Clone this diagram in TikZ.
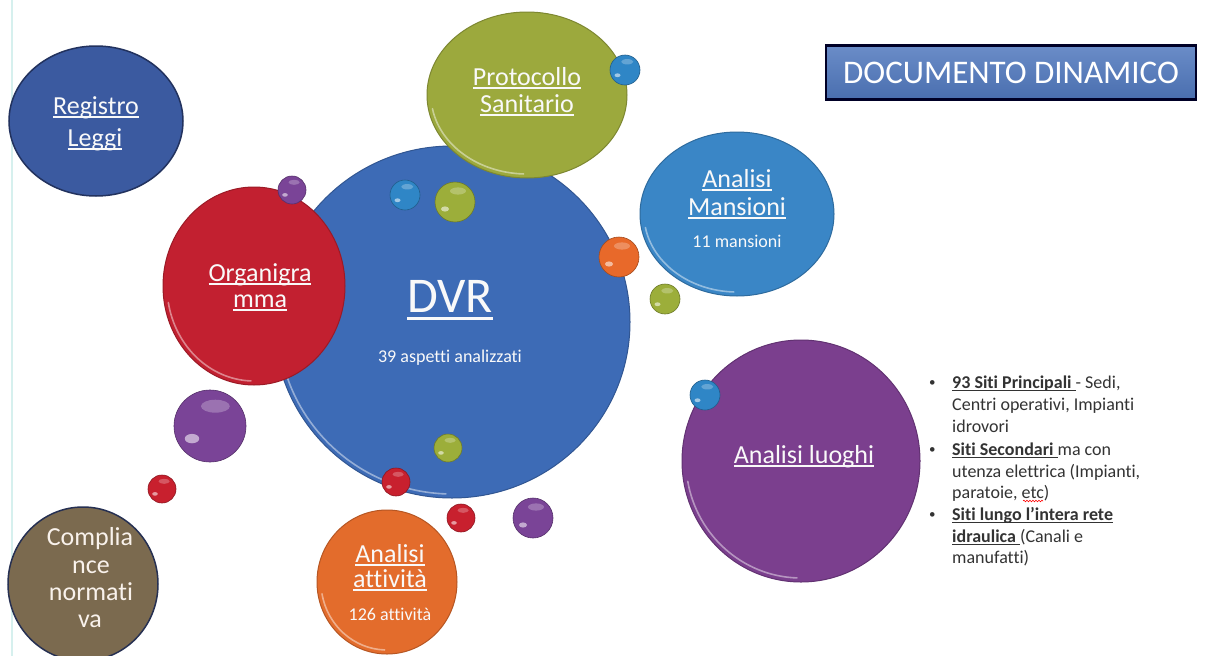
\documentclass[tikz,border=0pt]{standalone}
\usepackage{fontspec}
\setmainfont{Carlito}[Ligatures={NoCommon}]
\usetikzlibrary{shapes.geometric,decorations.pathmorphing}
\definecolor{regblue}{HTML}{3B5AA0}
\definecolor{regedge}{HTML}{22325E}
\definecolor{dvrblue}{HTML}{3D6BB6}
\definecolor{prgreen}{HTML}{9CA93D}
\definecolor{orgred}{HTML}{C22030}
\definecolor{manblue}{HTML}{3A86C6}
\definecolor{luopurple}{HTML}{7B3F8E}
\definecolor{attorange}{HTML}{E36C2C}
\definecolor{combrown}{HTML}{7B6A4F}
\definecolor{comedge}{HTML}{263052}
\definecolor{bpurple}{HTML}{7A4497}
\definecolor{bblue}{HTML}{2F86C6}
\definecolor{bgreen}{HTML}{9CAE3A}
\definecolor{borange}{HTML}{E8692A}
\definecolor{bred}{HTML}{C8202E}
\definecolor{txtgrey}{HTML}{333333}
\definecolor{lightline}{HTML}{D6F0EE}
\definecolor{docblue}{HTML}{5078BE}
\newcommand\ulx[1]{\setbox0\hbox{#1}\rlap{\rule[-0.15em]{\wd0}{0.055em}}\box0}
\newcommand\rim[4]{\draw[white, opacity=.45, line width=1.6pt, line cap=round]
  ({#1+(#3-4)*cos(190)},{#2-(#4-4)*sin(190)})
  arc[start angle=190, end angle=268, x radius={(#3-4)*1pt}, y radius={(#4-4)*1pt}];}
\newcommand\ball[5]{%
  \node[ballst, fill=#5, draw=#5!70!black, minimum size=2*#4pt] (#1) at (#2,#3) {};
  \fill[white, opacity=.55] ({#2-0.5*#4},{#3+0.35*#4}) ellipse [x radius=0.2*#4pt, y radius=0.13*#4pt];
  \fill[white, opacity=.25] ({#2+0.15*#4},{#3-0.55*#4}) ellipse [x radius=0.4*#4pt, y radius=0.18*#4pt];}
\begin{document}
\begin{tikzpicture}[x=1pt,y=-1pt,
  bubble/.style={ellipse, inner sep=0pt, line width=1pt},
  ballst/.style={circle, inner sep=0pt, line width=0.6pt},
  title/.style={text=white!95!gray, font=\fontsize{26}{31}\selectfont, inner sep=0pt, anchor=base},
  sub/.style={text=white!95!gray, font=\fontsize{18}{22}\selectfont, inner sep=0pt, anchor=base},
  bul/.style={text=txtgrey, font=\fontsize{18}{22}\selectfont, inner sep=0pt, anchor=base west},
  dot/.style={text=txtgrey, font=\fontsize{13}{22}\selectfont, inner sep=0pt, anchor=base west},
  docbox/.style={draw=black!85!blue, line width=2.5pt, top color=docblue!85!white, bottom color=docblue!92!black,
    minimum width=370pt, minimum height=54pt, text=white, font=\fontsize{33}{38}\selectfont, inner sep=0pt}]
\useasboundingbox (0,0) rectangle (1205,656);
\fill[white] (0,0) rectangle (1205,656);
\draw[lightline, line width=1.2pt] (12,0) -- (12,656);

% big bubbles
\node[bubble, fill=regblue, draw=regedge, line width=1.5pt, minimum width=174pt, minimum height=150pt] (reg) at (96,121) {};
\node[bubble, fill=combrown, draw=comedge, line width=1.5pt, minimum width=150pt, minimum height=154pt] (com) at (83,584) {};
\ball{bo0}{322}{366}{9}{borange}
\node[bubble, fill=dvrblue, draw=dvrblue!80!black, minimum width=356pt, minimum height=352pt] (dvr) at (452,322) {};
\rim{452}{322}{178}{176}
\node[bubble, fill=prgreen, draw=prgreen!80!black, minimum width=200pt, minimum height=166pt] (pro) at (527,95) {};
\rim{527}{95}{100}{83}
\node[bubble, fill=orgred, draw=orgred!80!black, minimum width=182pt, minimum height=198pt] (org) at (254,286) {};
\rim{254}{286}{91}{99}
\node[bubble, fill=manblue, draw=manblue!80!black, minimum width=194pt, minimum height=164pt] (man) at (737,214) {};
\rim{737}{214}{97}{82}
\node[bubble, fill=luopurple, draw=luopurple!80!black, minimum width=238pt, minimum height=242pt] (luo) at (801,461) {};
\rim{801}{461}{119}{121}
\node[bubble, fill=attorange, draw=attorange!80!black, minimum width=140pt, minimum height=144pt] (att) at (387,582) {};
\rim{387}{582}{70}{72}

% small balls
\ball{bp1}{292}{190}{14}{bpurple}
\ball{bb1}{405}{195}{15}{bblue}
\ball{bg1}{455}{202}{20}{bgreen}
\ball{bb2}{625}{70}{15}{bblue}
\ball{bo1}{619}{257}{20}{borange}
\ball{bg2}{665}{299}{15}{bgreen}
\ball{bb3}{705}{395}{15}{bblue}
\ball{bp2}{210}{426}{36}{bpurple}
\ball{br1}{162}{489}{14}{bred}
\ball{bg3}{448}{448}{14}{bgreen}
\ball{br2}{396}{482}{14}{bred}
\ball{br3}{461}{518}{14}{bred}
\ball{bp3}{533}{518}{20}{bpurple}

% texts in bubbles
\node[title] (reg1) at (96,114) {\ulx{Registro}};
\node[title] (reg2) at (95,146) {\ulx{Leggi}};
\node[title] (pro1) at (527,85) {\ulx{Protocollo}};
\node[title] (pro2) at (527,112) {\ulx{Sanitario}};
\node[title] (man1) at (737,187) {\ulx{Analisi}};
\node[title] (man2) at (737,215) {\ulx{Mansioni}};
\node[sub] (man3) at (737,247) {11 mansioni};
\node[title] (org1) at (260,281) {\ulx{Organigra}};
\node[title] (org2) at (260,307) {\ulx{mma}};
\node[title, font=\fontsize{50}{60}\selectfont] (dvr1) at (450,312) {\ulx{DVR}};
\node[sub] (dvr2) at (450,362) {39 aspetti analizzati};
\node[title] (luo1) at (804,463) {\ulx{Analisi luoghi}};
\node[title] (att1) at (390,562) {\ulx{Analisi}};
\node[title] (att2) at (390,587) {\ulx{attività}};
\node[sub] (att3) at (390,620) {126 attività};
\node[title, text=white!90!brown] (com1) at (90,545) {Complia};
\node[title, text=white!90!brown] (com2) at (91,573) {nce};
\node[title, text=white!90!brown] (com3) at (91,600) {normati};
\node[title, text=white!90!brown] (com4) at (90,627) {va};

% title box
\node[docbox] (doc) at (1011,72.5) {DOCUMENTO DINAMICO};

% bullet list
\node[dot] (d1) at (929,386) {•};
\node[dot] (d2) at (929,453) {•};
\node[dot] (d3) at (929,518) {•};
\node[bul] (l1) at (952,388) {\ulx{\textbf{93 Siti Principali }}- Sedi,};
\node[bul] (l2) at (952,410) {Centri operativi, Impianti};
\node[bul] (l3) at (952,432) {idrovori};
\node[bul] (l4) at (952,455) {\ulx{\textbf{Siti Secondari }}ma con};
\node[bul] (l5) at (952,477) {utenza elettrica (Impianti,};
\node[bul] (l6) at (952,498) {paratoie, etc)};
\node[bul] (l7) at (952,520) {\ulx{\textbf{Siti lungo l’intera rete}}};
\node[bul] (l8) at (952,542) {\ulx{\textbf{idraulica }}(Canali e};
\node[bul] (l9) at (952,563) {manufatti)};
\draw[red, line width=0.6pt, decorate, decoration={snake, amplitude=0.8pt, segment length=3pt}] (1023,501) -- (1043,501);
\end{tikzpicture}
\end{document}
